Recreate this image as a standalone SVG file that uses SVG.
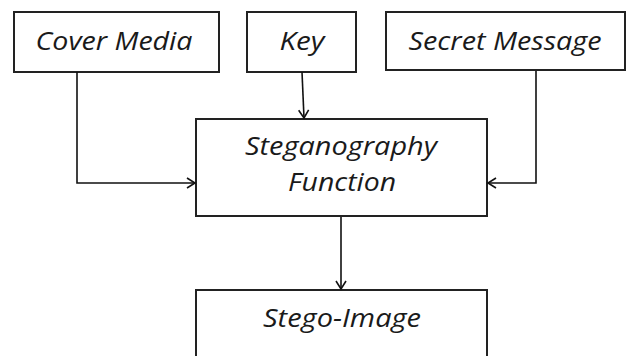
<svg xmlns="http://www.w3.org/2000/svg" width="626" height="356" viewBox="0 0 626 356">
<defs>
<marker id="arr" markerWidth="12" markerHeight="12" refX="10" refY="6" orient="auto" markerUnits="userSpaceOnUse">
<path d="M2,1 L10,6 L2,11" fill="none" stroke="#111" stroke-width="1.6"/>
</marker>
</defs>
<style>
.box{fill:#fff;stroke:#222;stroke-width:2}
.lbl{font-family:"Open Sans","Noto Sans",sans-serif;font-style:italic;font-size:26px;fill:#1a1a1a;text-anchor:middle}
.con{fill:none;stroke:#111;stroke-width:1.6}
</style>
<rect width="626" height="356" fill="#fff"/>
<g id="cover">
<rect class="box" x="14" y="12" width="205" height="60"/>
<text class="lbl" x="114" y="50" textLength="157" lengthAdjust="spacingAndGlyphs">Cover Media</text>
</g>
<g id="key">
<rect class="box" x="247" y="12" width="109" height="60"/>
<text class="lbl" x="302" y="50" textLength="45" lengthAdjust="spacingAndGlyphs">Key</text>
</g>
<g id="secret">
<rect class="box" x="386" y="12" width="239" height="58"/>
<text class="lbl" x="505" y="50" textLength="193" lengthAdjust="spacingAndGlyphs">Secret Message</text>
</g>
<g id="function">
<rect class="box" x="196" y="119" width="291" height="97"/>
<text class="lbl" x="341" y="155" textLength="192" lengthAdjust="spacingAndGlyphs">Steganography</text>
<text class="lbl" x="342" y="191" textLength="108" lengthAdjust="spacingAndGlyphs">Function</text>
</g>
<g id="stego">
<rect class="box" x="196" y="290" width="291" height="80"/>
<text class="lbl" x="342" y="327" textLength="158" lengthAdjust="spacingAndGlyphs">Stego-Image</text>
</g>
<g id="connectors">
<path class="con" d="M77,72 V183 H195" marker-end="url(#arr)"/>
<path class="con" d="M302,72 L304,118" marker-end="url(#arr)"/>
<path class="con" d="M536,71 V183 H488" marker-end="url(#arr)"/>
<path class="con" d="M341,217 V289" marker-end="url(#arr)"/>
</g>
</svg>
